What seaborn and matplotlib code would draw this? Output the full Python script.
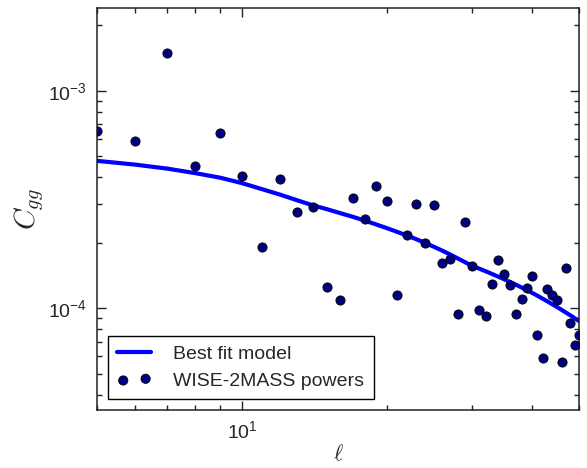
import numpy as np
import pandas as pd
import seaborn as sns
import matplotlib
matplotlib.use("Agg")
import matplotlib.pyplot as plt
from matplotlib.ticker import NullFormatter, LogFormatterSciNotation

# ---- data ----
ell = list(range(5, 51))
cgg_data = [6.54e-4, 5.84e-4, 1.488e-3, 4.50e-4, 6.38e-4, 4.07e-4, 1.909e-4, 3.93e-4,
            2.78e-4, 2.92e-4, 1.25e-4, 1.093e-4, 3.22e-4, 2.557e-4, 3.66e-4, 3.11e-4,
            1.148e-4, 2.163e-4, 3.01e-4, 2.00e-4, 2.97e-4, 1.619e-4, 1.689e-4, 9.35e-5,
            2.482e-4, 1.568e-4, 9.76e-5, 9.16e-5, 1.296e-4, 1.671e-4, 1.44e-4, 1.273e-4,
            9.35e-5, 1.097e-4, 1.242e-4, 1.41e-4, 7.56e-5, 5.91e-5, 1.22e-4, 1.148e-4,
            1.089e-4, 5.66e-5, 1.528e-4, 8.53e-5, 6.77e-5, 7.52e-5]
cgg_model = [4.757e-4, 4.570e-4, 4.380e-4, 4.175e-4, 3.981e-4, 3.756e-4, 3.524e-4, 3.324e-4,
             3.134e-4, 2.973e-4, 2.850e-4, 2.732e-4, 2.627e-4, 2.522e-4, 2.423e-4, 2.330e-4,
             2.240e-4, 2.157e-4, 2.073e-4, 1.993e-4, 1.914e-4, 1.839e-4, 1.766e-4, 1.694e-4,
             1.627e-4, 1.565e-4, 1.521e-4, 1.478e-4, 1.436e-4, 1.395e-4, 1.356e-4, 1.318e-4,
             1.281e-4, 1.244e-4, 1.209e-4, 1.174e-4, 1.140e-4, 1.106e-4, 1.074e-4, 1.042e-4,
             1.012e-4, 9.82e-5, 9.53e-5, 9.26e-5, 8.98e-5, 8.72e-5]

df_data = pd.DataFrame({"ell": ell, "cgg": cgg_data})
df_model = pd.DataFrame({"ell": ell, "cgg": cgg_model})

sns.set_style("ticks")
plt.rcParams["font.family"] = ["Liberation Sans", "DejaVu Sans"]
plt.rcParams["mathtext.fontset"] = "cm"
plt.rcParams["axes.unicode_minus"] = False

fig = plt.figure(figsize=(5.87, 4.68), dpi=100)
ax = fig.add_axes([97/587, 1 - 410/468, (579 - 97)/587, (410 - 8)/468])

sns.lineplot(data=df_model, x="ell", y="cgg", ax=ax, color="#0000ff", linewidth=3.0,
             label="Best fit model", zorder=2)
sns.scatterplot(data=df_data, x="ell", y="cgg", ax=ax, color="#00007f", edgecolor="black",
                linewidth=0.6, s=44, label="WISE-2MASS powers", zorder=3, clip_on=True)

ax.set_xscale("log")
ax.set_yscale("log")
ax.set_xlim(5.0, 50.0)
ax.set_ylim(3.4e-5, 2.4e-3)

ax.xaxis.set_major_formatter(LogFormatterSciNotation())
ax.yaxis.set_major_formatter(LogFormatterSciNotation())
ax.xaxis.set_minor_formatter(NullFormatter())
ax.yaxis.set_minor_formatter(NullFormatter())

ax.tick_params(which="both", direction="in", top=True, right=True, color="#222222",
               labelsize=14, width=1.0)
ax.tick_params(which="major", length=6.5, pad=7)
ax.tick_params(which="minor", length=3.5)
for sp in ax.spines.values():
    sp.set_linewidth(1.1)
    sp.set_color("#222222")

ax.set_xlabel(r"$\ell$", fontsize=16, labelpad=2)
ax.set_ylabel(r"$C_{gg}$", fontsize=21, labelpad=2)

leg = ax.legend(loc="lower left", fontsize=14, scatterpoints=2, handlelength=1.75,
                handletextpad=1.1, borderaxespad=0.55, frameon=True, fancybox=False,
                borderpad=0.5, labelspacing=0.45)
leg.get_frame().set_edgecolor("black")
leg.get_frame().set_linewidth(1.0)
leg.get_frame().set_alpha(1)

fig.savefig("out.png", dpi=100)
